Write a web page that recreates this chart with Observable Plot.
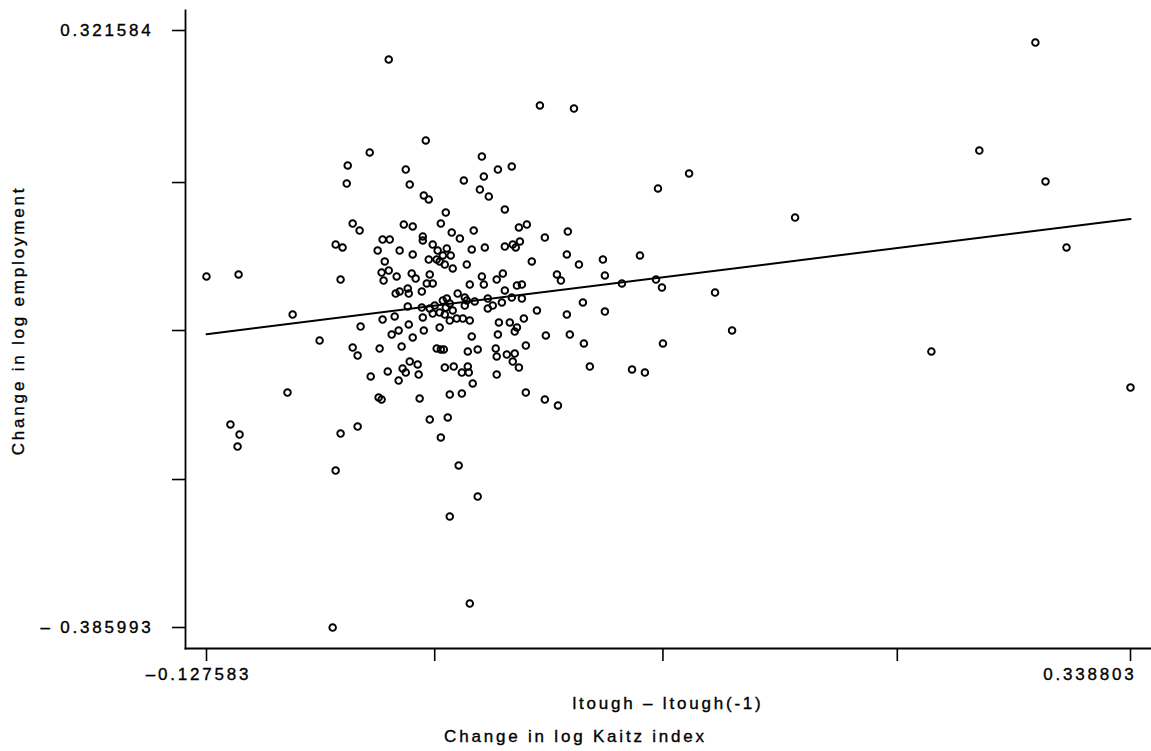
<!DOCTYPE html>
<html>
<head>
<meta charset="utf-8">
<script src="https://cdn.jsdelivr.net/npm/d3@7"></script>
<script src="https://cdn.jsdelivr.net/npm/@observablehq/plot@0.6"></script>
<style>
  html, body { margin: 0; padding: 0; background: #fff; }
  #chart svg text { letter-spacing: 2.8px; stroke: #000; stroke-width: 0.35px; }
  #caption { width: 1151px; text-align: center; font: 17px 'Liberation Sans', Arial, sans-serif; letter-spacing: 2.8px; line-height: 20px; color: #000; -webkit-text-stroke: 0.35px #000; }
</style>
</head>
<body>
<div id="chart"></div>
<div id="caption">Change in log Kaitz index</div>
<script>
// Axis extents (min / max of the data, as labelled)
const xMin = -0.127583, xMax = 0.338803;
const yMin = -0.385993, yMax = 0.321584;

// Tick positions and labels
const xTicks = [-0.127583, -0.0124, 0.1028, 0.2211, 0.338803];
const xTickLabels = ["–0.127583", "", "", "", "0.338803"];
const yTicks = [-0.385993, -0.2106, -0.0340, 0.1414, 0.321584];
const yTickLabels = ["– 0.385993", "", "", "", "0.321584"];

// Titles
const xTitle = "ltough – ltough(-1)";
const yTitle = "Change in log employment";

// Fitted regression line
const fitIntercept = -0.001;
const fitSlope = 0.293;

// Change in log Kaitz index (x)
const kaitzChange = [
-0.1276,-0.1114,-0.0841,-0.0867,-0.1155,-0.1109,-0.1119,-0.0705,-0.0639,-0.0624,
-0.0599,-0.0513,-0.0356,0.0407,0.0579,-0.0169,-0.0452,-0.0563,-0.0568,-0.0270,
-0.0250,-0.0179,-0.0154,0.0114,0.0124,0.0023,0.0195,0.0265,0.0104,0.0149,
0.0230,-0.0068,-0.0093,-0.0538,-0.0503,-0.0280,-0.0235,-0.0038,0.0003,0.0073,
0.0301,0.0341,0.0432,0.0548,-0.0387,-0.0351,-0.0184,-0.0184,-0.0624,-0.0589,
-0.0412,-0.0301,-0.0235,-0.0134,-0.0063,-0.0109,0.0063,0.0129,0.0230,0.0270,
0.0285,0.0306,-0.0043,-0.0083,-0.0376,-0.0154,-0.0114,-0.0099,-0.0073,0.0038,
-0.0033,0.0366,0.0543,0.0604,0.0725,0.0912,0.1003,0.1160,0.1695,0.2625,
0.2959,0.2908,0.3065,0.2383,0.3388,0.1291,0.1377,0.1028,0.0937,0.0872,
0.0993,0.1023,0.0821,0.0735,0.0735,0.0624,0.0659,0.0543,0.0493,0.0513,
0.0392,0.0437,0.0558,0.0629,0.0336,0.0432,0.0498,-0.0392,-0.0356,-0.0316,
-0.0382,-0.0240,-0.0220,-0.0149,-0.0164,-0.0134,-0.0599,-0.0321,-0.0301,-0.0260,
-0.0255,-0.0189,-0.0063,-0.0008,0.0028,-0.0083,0.0038,0.0078,0.0144,0.0215,
0.0265,0.0316,0.0114,0.0124,0.0189,0.0220,0.0291,0.0316,0.0053,0.0230,
-0.0068,-0.0033,-0.0073,0.0028,0.0144,0.0169,-0.0048,-0.0124,-0.0189,-0.0149,
-0.0099,-0.0260,-0.0134,-0.0184,-0.0048,-0.0013,0.0018,0.0053,0.0200,0.0255,
0.0291,0.0326,0.0280,0.0195,0.0063,-0.0099,-0.0326,-0.0387,-0.0498,-0.0255,
-0.0306,-0.0341,-0.0179,-0.0235,-0.0538,-0.0513,-0.0402,-0.0291,-0.0114,-0.0093,
-0.0078,0.0043,0.0093,0.0184,0.0189,0.0240,0.0280,0.0270,0.0301,0.0336,
-0.0250,-0.0210,-0.0286,-0.0270,-0.0205,-0.0361,-0.0447,-0.0306,-0.0073,-0.0028,
0.0013,0.0043,0.0048,0.0189,0.0068,-0.0048,0.0013,-0.0200,-0.0407,-0.0392,
-0.0149,-0.0058,-0.0093,-0.0003,-0.0048,0.0093,0.0053
];

// Change in log employment (y)
const empChange = [
0.0300,0.0324,-0.0151,-0.1075,-0.1454,-0.1573,-0.1715,-0.0459,-0.3861,-0.2000,
-0.1561,-0.1478,0.2872,0.2327,0.2291,0.1912,0.1770,0.1616,0.1402,0.1568,
0.1390,0.1260,0.1213,0.1722,0.1485,0.1438,0.1568,0.1604,0.1331,0.1248,
0.1094,0.1058,0.0928,0.0928,0.0845,0.0916,0.0893,0.0821,0.0750,0.0845,
0.0881,0.0916,0.0762,0.0833,0.0738,0.0738,0.0774,0.0727,0.0679,0.0644,
0.0608,0.0608,0.0561,0.0679,0.0632,0.0608,0.0620,0.0644,0.0655,0.0679,
0.0644,0.0715,0.0549,0.0549,0.0478,0.0501,0.0501,0.0478,0.0442,0.0442,
0.0395,0.0478,0.0561,0.0442,0.0501,0.0549,0.1343,0.1521,0.0999,0.1793,
0.1426,0.3073,0.0644,-0.0589,-0.1016,0.0110,-0.0340,-0.0494,-0.0838,-0.0802,
0.0264,0.0169,0.0217,0.0312,-0.0115,-0.0008,-0.0767,-0.0151,0.0324,0.0252,
-0.0103,-0.0399,-0.0388,-0.0494,-0.1075,-0.1158,-0.1229,0.0347,0.0371,0.0300,
0.0252,0.0335,0.0276,0.0324,0.0217,0.0217,0.0264,0.0098,0.0122,0.0158,
0.0098,0.0122,0.0039,0.0098,0.0051,0.0015,0.0015,0.0004,0.0039,-0.0008,
0.0051,0.0039,0.0300,0.0205,0.0264,0.0335,0.0193,0.0205,0.0205,0.0134,
-0.0068,-0.0103,-0.0151,-0.0044,-0.0079,-0.0044,-0.0020,-0.0044,-0.0068,-0.0079,
-0.0127,-0.0056,-0.0139,-0.0186,-0.0222,-0.0198,-0.0198,-0.0222,-0.0245,-0.0245,
-0.0305,-0.0198,-0.0352,-0.0388,-0.0411,-0.0305,-0.0174,-0.0210,-0.0293,-0.0269,
-0.0340,-0.0388,-0.0340,-0.0423,-0.0542,-0.0637,-0.0554,-0.0530,-0.0554,-0.0565,
-0.0565,-0.0589,-0.0565,-0.0554,-0.0648,-0.0625,-0.0613,-0.0708,-0.0779,-0.0518,
-0.0708,-0.0743,-0.0791,-0.0838,-0.0862,-0.0826,-0.0885,-0.0933,-0.0779,-0.0767,
-0.0838,-0.0767,-0.0838,-0.0862,-0.0968,-0.1099,-0.1087,-0.1146,-0.1134,-0.1158,
-0.1395,-0.1371,-0.1608,-0.1940,-0.2545,-0.2308,-0.3576
];

const points = kaitzChange.map((x, i) => ({x, y: empChange[i]}));
const fitLine = [xMin, xMax].map(x => ({x, y: fitIntercept + fitSlope * x}));
const yLabelMap = new Map(yTicks.map((t, i) => [t, yTickLabels[i]]));
const xLabelData = xTicks.map((t, i) => ({t, label: xTickLabels[i]}));

const chart = Plot.plot({
  width: 1151,
  height: 727,
  marginLeft: 185,
  marginRight: 1,
  marginTop: 10,
  marginBottom: 79,
  style: {fontFamily: "'Liberation Sans', Arial, sans-serif", fontSize: "17px", color: "#000", background: "#fff"},
  x: {domain: [xMin, xMax], insetLeft: 21, insetRight: 20, axis: null},
  y: {domain: [yMin, yMax], insetTop: 20, insetBottom: 21, axis: null},
  marks: [
    Plot.frame({anchor: "left", stroke: "#000", strokeWidth: 1.8}),
    Plot.frame({anchor: "bottom", stroke: "#000", strokeWidth: 1.8}),
    Plot.axisY({ticks: yTicks, tickSize: 13, tickPadding: 19, strokeWidth: 1.6, tickFormat: d => yLabelMap.get(d) ?? "", label: null, fill: "#000"}),
    Plot.axisX({ticks: xTicks, tickSize: 13, strokeWidth: 1.6, tickFormat: () => "", label: null}),
    Plot.text(xLabelData.slice(0, 1), {x: "t", text: "label", frameAnchor: "bottom", dy: 31, textAnchor: "middle", dx: -8, fill: "#000"}),
    Plot.text(xLabelData.slice(4, 5), {x: "t", text: "label", frameAnchor: "bottom", dy: 31, textAnchor: "end", dx: 6, fill: "#000"}),
    Plot.line(fitLine, {x: "x", y: "y", stroke: "#000", strokeWidth: 2}),
    Plot.dot(points, {x: "x", y: "y", r: 3.3, stroke: "#000", strokeWidth: 1.9, fill: "none"}),
    Plot.text([xTitle], {text: d => d, frameAnchor: "bottom", dy: 60, textAnchor: "middle", fill: "#000"}),
    Plot.text([yTitle], {text: d => d, frameAnchor: "left", rotate: -90, textAnchor: "middle", dx: -167, dy: -9, fill: "#000"})
  ]
});
document.getElementById("chart").appendChild(chart);
</script>
</body>
</html>
